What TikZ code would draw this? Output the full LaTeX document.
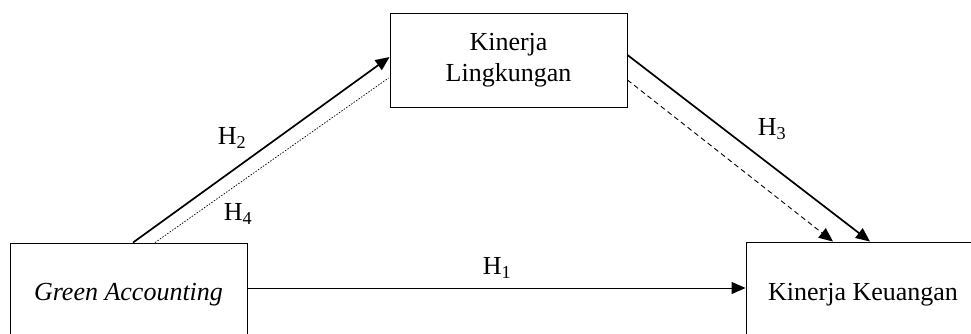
\documentclass[tikz,border=0pt]{standalone}
\usepackage{fontspec}
\setmainfont{Liberation Serif}
\usetikzlibrary{arrows.meta,calc}
\tikzset{
  box/.style={draw=black, line width=0.9pt, inner sep=0pt, align=center,
    font=\fontsize{26}{31}\selectfont},
  lbl/.style={inner sep=0pt, font=\fontsize{26}{31}\selectfont},
  tip/.style={-{Triangle[length=14pt,width=12pt]}},
  strong/.style={line width=1.7pt},
}
\begin{document}
\begin{tikzpicture}[x=1pt,y=-1pt]
\useasboundingbox (0,0) rectangle (971,334);
\clip (0,0) rectangle (971,334);
\node[box, minimum width=237, minimum height=104, font=\fontsize{26}{31}\selectfont\itshape] (ga) at (128.5,295) {Green Accounting};
\node[box, minimum width=237, minimum height=94] (kl) at (508.5,60) {Kinerja\\Lingkungan};
\node[box, minimum width=234, minimum height=106] (kk) at (863,295) {Kinerja Keuangan};
% H1
\draw[tip, line width=1pt] ($(ga.east)+(0,-7)$) -- ($(kk.west)+(0,-7)$);
% H2
\draw[tip, strong] ($(ga.north)+(4.5,0)$) -- ($(kl.west)+(0,-3)$);
% H4 dotted
\draw[line width=0.7pt, dash pattern=on 1.5pt off 1.5pt] ($(ga.north)+(26.5,0)$) -- ($(kl.west)+(-1,18)$);
% H3
\draw[tip, strong] ($(kl.east)+(0,-5)$) -- ($(kk.north)+(7,0)$);
% dashed
\draw[tip, line width=0.9pt, dash pattern=on 5pt off 3.5pt] ($(kl.east)+(0,20)$) -- ($(kk.north)+(-30,0)$);
% labels
\node[lbl] (h1) at (497,268) {H\textsubscript{1}};
\node[lbl] (h2) at (232,138) {H\textsubscript{2}};
\node[lbl] (h3) at (772,129) {H\textsubscript{3}};
\node[lbl] (h4) at (238,214) {H\textsubscript{4}};
\end{tikzpicture}
\end{document}
